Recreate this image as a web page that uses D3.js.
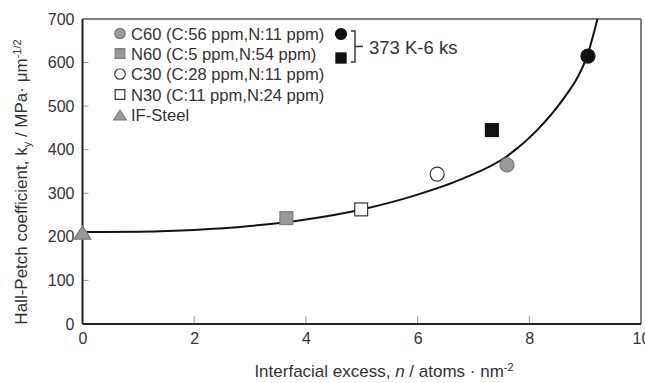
<!DOCTYPE html>
<html>
<head>
<meta charset="utf-8">
<script src="https://cdn.jsdelivr.net/npm/d3@7"></script>
<style>
  html, body { margin: 0; padding: 0; background: #fff; }
  svg { display: block; }
  text { font-family: "Liberation Sans", Arial, sans-serif; fill: #333; }
</style>
</head>
<body>
<svg id="chart" width="645" height="383"></svg>
<script>
// ---- data ----
const xTicks = [0, 2, 4, 6, 8, 10];
const yTicks = [0, 100, 200, 300, 400, 500, 600, 700];

const samples = [
  { name: "C60 (C:56 ppm,N:11 ppm)", shape: "circle",   fill: "gray",  x: 7.60, y: 365 },
  { name: "N60 (C:5 ppm,N:54 ppm)",  shape: "square",   fill: "gray",  x: 3.65, y: 243 },
  { name: "C30 (C:28 ppm,N:11 ppm)", shape: "circle",   fill: "white", x: 6.35, y: 344 },
  { name: "N30 (C:11 ppm,N:24 ppm)", shape: "square",   fill: "white", x: 4.99, y: 263 },
  { name: "IF-Steel",                shape: "triangle", fill: "gray",  x: 0.00, y: 210 }
];
const aged = [
  { name: "C60 373 K-6 ks", shape: "circle", fill: "black", x: 9.05, y: 615 },
  { name: "N60 373 K-6 ks", shape: "square", fill: "black", x: 7.33, y: 445 }
];
const agedLabel = "373 K-6 ks";

// fitted curve
const curveX = [0, 1, 2, 3, 4, 5, 6, 6.8, 7.6, 8.14, 8.6, 8.9, 9.03, 9.22];
const curveY = [211, 212, 216, 225, 240, 263, 297, 333, 385, 445, 515, 575, 613, 700];

// ---- layout ----
const svg = d3.select("#chart");
const L = 82.5, R = 641, T = 19, B = 324;
const x = d3.scaleLinear().domain([0, 10]).range([L, R]);
const y = d3.scaleLinear().domain([0, 700]).range([B, T]);

const colors = { gray: "#9a9a9a", white: "#ffffff", black: "#111111" };
const strokes = { gray: "#7a7a7a", white: "#333333", black: "#111111" };

function drawMarker(g, shape, fill, cx, cy, size) {
  if (shape === "circle") {
    g.append("circle").attr("cx", cx).attr("cy", cy).attr("r", size / 2)
      .attr("fill", colors[fill]).attr("stroke", strokes[fill]).attr("stroke-width", 1.2);
  } else if (shape === "square") {
    const s = size * 0.92;
    g.append("rect").attr("x", cx - s / 2).attr("y", cy - s / 2).attr("width", s).attr("height", s)
      .attr("fill", colors[fill]).attr("stroke", strokes[fill]).attr("stroke-width", 1.2);
  } else {
    const w = size * 1.2, h = size * 0.95;
    g.append("path")
      .attr("d", `M${cx - w / 2},${cy + h / 2}L${cx + w / 2},${cy + h / 2}L${cx},${cy - h / 2}Z`)
      .attr("fill", colors[fill]).attr("stroke", strokes[fill]).attr("stroke-width", 1.2);
  }
}

// clip
svg.append("clipPath").attr("id", "plotclip")
  .append("rect").attr("x", L).attr("y", T).attr("width", R - L).attr("height", B - T);

// x axis (ticks inward)
const xAxis = d3.axisBottom(x).tickValues(xTicks).tickSize(0).tickPadding(9);
const gx = svg.append("g").attr("transform", `translate(0,${B})`).call(xAxis);
gx.select(".domain").remove();
gx.selectAll("text").attr("font-size", 16).attr("fill", "#333").style("font-family", "Liberation Sans, Arial, sans-serif");
svg.append("g").selectAll("line").data(xTicks.filter(d => d > 0 && d < 10)).join("line")
  .attr("x1", d => x(d)).attr("x2", d => x(d)).attr("y1", B).attr("y2", B - 8)
  .attr("stroke", "#999").attr("stroke-width", 1);

// y axis
const yAxis = d3.axisLeft(y).tickValues(yTicks).tickSize(0).tickPadding(8);
const gy = svg.append("g").attr("transform", `translate(${L},0)`).call(yAxis);
gy.select(".domain").remove();
gy.selectAll("text").attr("font-size", 16).attr("fill", "#333").style("font-family", "Liberation Sans, Arial, sans-serif");
svg.append("g").selectAll("line").data(yTicks.filter(d => d > 0 && d < 700)).join("line")
  .attr("x1", L).attr("x2", L + 6).attr("y1", d => y(d)).attr("y2", d => y(d))
  .attr("stroke", "#999").attr("stroke-width", 1);

// frame
svg.append("line").attr("x1", L).attr("x2", R).attr("y1", T).attr("y2", T).attr("stroke", "#555").attr("stroke-width", 1.5);
svg.append("line").attr("x1", R).attr("x2", R).attr("y1", T).attr("y2", B).attr("stroke", "#555").attr("stroke-width", 1.5);
svg.append("line").attr("x1", L).attr("x2", R).attr("y1", B).attr("y2", B).attr("stroke", "#222").attr("stroke-width", 2);
svg.append("line").attr("x1", L).attr("x2", L).attr("y1", T).attr("y2", B).attr("stroke", "#222").attr("stroke-width", 2);

// curve
const pts = curveX.map((d, i) => [d, curveY[i]]);
const line = d3.line().x(d => x(d[0])).y(d => y(d[1])).curve(d3.curveMonotoneX);
svg.append("path").datum(pts).attr("d", line).attr("fill", "none")
  .attr("stroke", "#111").attr("stroke-width", 2).attr("clip-path", "url(#plotclip)");

// data markers
const gm = svg.append("g");
samples.forEach(s => drawMarker(gm, s.shape, s.fill, x(s.x), y(s.y), 14));
aged.forEach(s => drawMarker(gm, s.shape, s.fill, x(s.x), y(s.y), 14));

// legend
const gl = svg.append("g");
const rowY = [33.5, 53.5, 74, 94.5, 115];
samples.forEach((s, i) => {
  drawMarker(gl, s.shape, s.fill, 120, rowY[i], 10.5);
  gl.append("text").attr("x", 131).attr("y", rowY[i] + 6).attr("font-size", 16.6).text(s.name);
});
drawMarker(gl, aged[0].shape, aged[0].fill, 341, 34, 11);
drawMarker(gl, aged[1].shape, aged[1].fill, 341, 58, 11);
gl.append("path").attr("d", "M351,31H355V62H351M355,46.5H363")
  .attr("fill", "none").attr("stroke", "#333").attr("stroke-width", 1.4);
gl.append("text").attr("x", 369).attr("y", 54).attr("font-size", 18.5).text(agedLabel);

// axis titles
const xt = svg.append("text").attr("x", 384).attr("y", 377).attr("text-anchor", "middle").attr("font-size", 17);
xt.append("tspan").text("Interfacial excess, ");
xt.append("tspan").attr("font-style", "italic").text("n");
xt.append("tspan").text(" / atoms · nm");
xt.append("tspan").attr("font-size", 11).attr("dy", -6).text("-2");

const yt = svg.append("text").attr("transform", "translate(27,182) rotate(-90)").attr("text-anchor", "middle").attr("font-size", 17);
yt.append("tspan").text("Hall-Petch coefficient, k");
yt.append("tspan").attr("font-size", 11).attr("dy", 4).text("y");
yt.append("tspan").attr("dy", -4).text(" / MPa·  μm");
yt.append("tspan").attr("font-size", 11).attr("dy", -6).text("-1/2");
</script>
</body>
</html>
